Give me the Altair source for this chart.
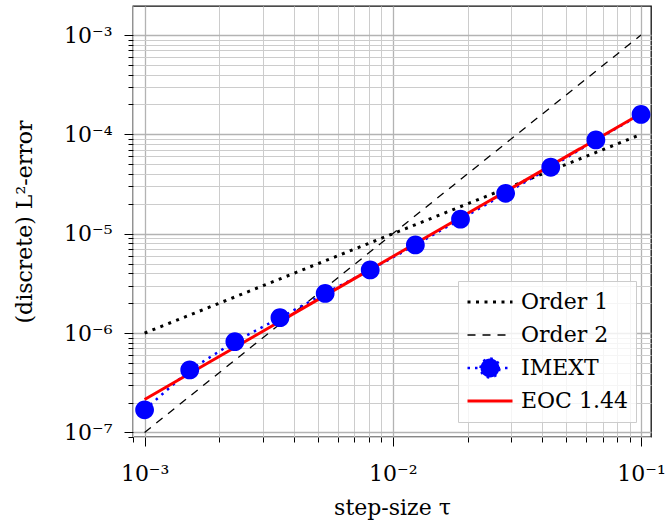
import altair as alt
import pandas as pd

# ---- data ----
tau = [0.001, 0.00152, 0.00231, 0.00351, 0.00534, 0.00811,
       0.01233, 0.01874, 0.02848, 0.04329, 0.06579, 0.1]
imext_err = [1.69e-7, 4.26e-7, 8.2e-7, 1.43e-6, 2.51e-6, 4.32e-6,
             7.71e-6, 1.40e-5, 2.55e-5, 4.67e-5, 8.79e-5, 1.59e-4]
order1_tau = [0.001, 0.1]
order1_err = [1e-6, 1e-4]
order2_tau = [0.001, 0.1]
order2_err = [1e-7, 1e-3]
eoc_tau = [0.001, 0.1]
eoc_err = [2.15e-7, 1.62e-4]

series_names = ["Order 1", "Order 2", "IMEXT", "EOC 1.44"]
series_colors = ["black", "black", "#0000ff", "#ff0000"]
series_dash = [[3, 5.5], [8, 7], [2.5, 5], [1, 0]]
series_width = [3, 1.3, 2.5, 3]
LINE_PATH = "M-1,0L1,0"
CIRCLE_LINE_PATH = "M-1,0L1,0M-0.42,0A0.42,0.42,0,1,1,0.42,0A0.42,0.42,0,1,1,-0.42,0Z"
series_shape = [LINE_PATH, LINE_PATH, CIRCLE_LINE_PATH, LINE_PATH]

x_decades = [-3, -2, -1]
y_decades = [-7, -6, -5, -4, -3]
sup = {"-1": "⁻¹", "-2": "⁻²", "-3": "⁻³", "-4": "⁻⁴", "-5": "⁻⁵", "-6": "⁻⁶", "-7": "⁻⁷"}

FONT = "DejaVu Serif"
FS = 22

rows = []
for n, xs_, ys_ in [("Order 1", order1_tau, order1_err),
                    ("Order 2", order2_tau, order2_err),
                    ("IMEXT", tau, imext_err),
                    ("EOC 1.44", eoc_tau, eoc_err)]:
    for a, b in zip(xs_, ys_):
        rows.append({"series": n, "tau": a, "err": b})
df = pd.DataFrame(rows)

x_ticks = [m * 10.0 ** e for e in [-4, -3, -2, -1] for m in range(1, 10)]
x_ticks = [t for t in x_ticks if 8.9e-4 <= t <= 0.11]
y_ticks = [m * 10.0 ** e for e in [-8, -7, -6, -5, -4, -3] for m in range(1, 10)]
y_ticks = [t for t in y_ticks if 8.9e-8 <= t <= 1.96e-3]

LOG = "log(datum.value)/LN10"
IS_DEC = f"abs({LOG} - round({LOG})) < 0.001"


def label_expr(decs):
    s = "''"
    for d in decs:
        s = f"round({LOG}) == {d} ? '10{sup[str(d)]}' : ({s})"
    return f"{IS_DEC} ? ({s}) : ''"


def make_axis(title, decs, ticks, lpad, tpad):
    return alt.Axis(
        title=title, values=ticks, labelExpr=label_expr(decs),
        grid=True, domain=False,
        gridColor={"condition": {"test": IS_DEC, "value": "#b3b3b3"}, "value": "#cccccc"},
        gridWidth={"condition": {"test": IS_DEC, "value": 1.3}, "value": 1},
        tickSize={"condition": {"test": IS_DEC, "value": 9}, "value": 5},
        tickColor="black", tickWidth=1,
        labelFont=FONT, labelFontSize=FS, labelColor="black",
        labelPadding=lpad, titleFont=FONT, titleFontSize=FS, titleColor="black",
        titleFontWeight="normal", titlePadding=tpad, labelFlush=False,
        labelOverlap=False,
    )


xs = alt.Scale(type="log", domain=[8.98e-4, 0.1097], nice=False)
ys = alt.Scale(type="log", domain=[9.0e-8, 1.96e-3], nice=False)

legend = alt.Legend(
    title=None, orient="bottom-right", offset=15,
    labelFont=FONT, labelFontSize=FS, labelColor="black",
    symbolSize=2025, clipHeight=26, rowPadding=7, padding=8, labelOffset=7,
    strokeColor="#cccccc", fillColor="rgba(255,255,255,0.8)", symbolOpacity=1,
)

xenc = alt.X("tau:Q", scale=xs, axis=make_axis("step-size τ", x_decades, x_ticks, 17, 13))
yenc = alt.Y("err:Q", scale=ys, axis=make_axis("(discrete) L²-error", y_decades, y_ticks, 12, 27))
cenc = alt.Color("series:N", scale=alt.Scale(domain=series_names, range=series_colors),
                 legend=legend)
denc = alt.StrokeDash("series:N", scale=alt.Scale(domain=series_names, range=series_dash),
                      legend=legend)
wenc = alt.StrokeWidth("series:N", scale=alt.Scale(type="ordinal", domain=series_names,
                                                   range=series_width), legend=legend)
senc = alt.Shape("series:N", scale=alt.Scale(domain=series_names, range=series_shape),
                 legend=legend)

base = alt.Chart(df)

lines = base.mark_line(clip=True).encode(
    x=xenc, y=yenc, color=cenc, strokeDash=denc, strokeWidth=wenc,
    order=alt.value(0),
)
points = base.transform_filter(alt.datum.series == "IMEXT").mark_point(
    filled=True, size=2000, opacity=1, strokeWidth=0
).encode(x=xenc, y=yenc, color=cenc, shape=senc)

chart = alt.layer(lines, points).properties(
    width=518, height=431,
    autosize=alt.AutoSizeParams(type="none"),
    padding={"left": 133, "top": 6, "right": 14, "bottom": 85},
).configure(font=FONT).configure_view(stroke="#111111", strokeWidth=1.3)

chart.save("out.html", embed_options={"renderer": "svg", "actions": False})
